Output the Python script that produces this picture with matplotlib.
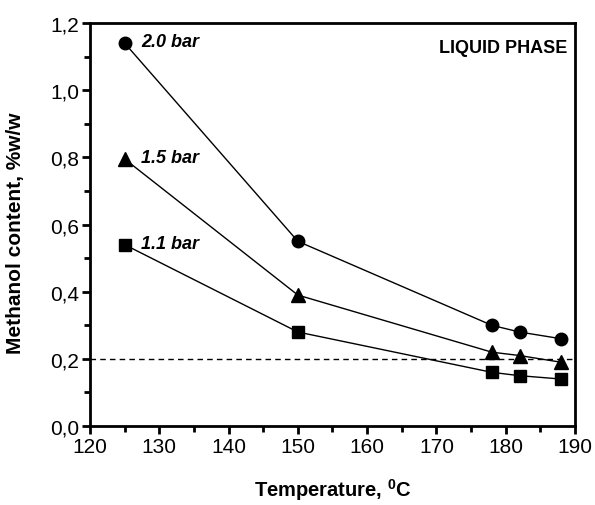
import matplotlib
matplotlib.use("Agg")
import matplotlib.pyplot as plt
from matplotlib.ticker import MultipleLocator, FuncFormatter

plt.rcParams['font.family'] = ['Liberation Sans', 'DejaVu Sans']

temps = [125, 150, 178, 182, 188]
p20 = [1.14, 0.55, 0.30, 0.28, 0.26]
p15 = [0.795, 0.39, 0.22, 0.21, 0.19]
p11 = [0.54, 0.28, 0.16, 0.15, 0.14]
series_labels = ["2.0 bar", "1.5 bar", "1.1 bar"]
threshold = 0.2

fig = plt.figure(figsize=(5.95, 5.06), dpi=100)
ax = fig.add_axes([0.1513, 0.156, 0.815, 0.7966])

ax.plot(temps, p20, '-o', color='black', lw=1.0, ms=9)
ax.plot(temps, p15, '-^', color='black', lw=1.0, ms=9.5)
ax.plot(temps, p11, '-s', color='black', lw=1.0, ms=8)
ax.axhline(threshold, color='black', lw=1.0, ls=(0, (4, 3)))

for lab, ys in zip(series_labels, [p20, p15, p11]):
    ax.annotate(lab, (temps[0], ys[0]), xytext=(12, 1), textcoords='offset points',
                fontsize=13, fontweight='bold', fontstyle='italic', va='center', ha='left')

ax.text(0.985, 0.96, "LIQUID PHASE", transform=ax.transAxes, ha='right', va='top',
        fontsize=13, fontweight='bold')

ax.set_xlim(120, 190)
ax.set_ylim(0.0, 1.2)
ax.xaxis.set_major_locator(MultipleLocator(10))
ax.xaxis.set_minor_locator(MultipleLocator(5))
ax.yaxis.set_major_locator(MultipleLocator(0.2))
ax.yaxis.set_minor_locator(MultipleLocator(0.1))
ax.yaxis.set_major_formatter(FuncFormatter(lambda v, p: f"{v:.1f}".replace('.', ',')))

for s in ax.spines.values():
    s.set_linewidth(2.0)
ax.tick_params(which='major', direction='out', length=6, width=2, labelsize=15, top=False, right=False, pad=2)
ax.tick_params(which='minor', direction='out', length=4, width=2, top=False, right=False)

ax.set_xlabel("Temperature, $^{\\mathregular{0}}$C", fontsize=14.5, fontweight='bold', labelpad=14)
ax.set_ylabel("Methanol content, %w/w", fontsize=15, fontweight='bold', labelpad=8)
ax.yaxis.set_label_coords(-0.135, 0.48)

fig.savefig("out.png", dpi=100)
